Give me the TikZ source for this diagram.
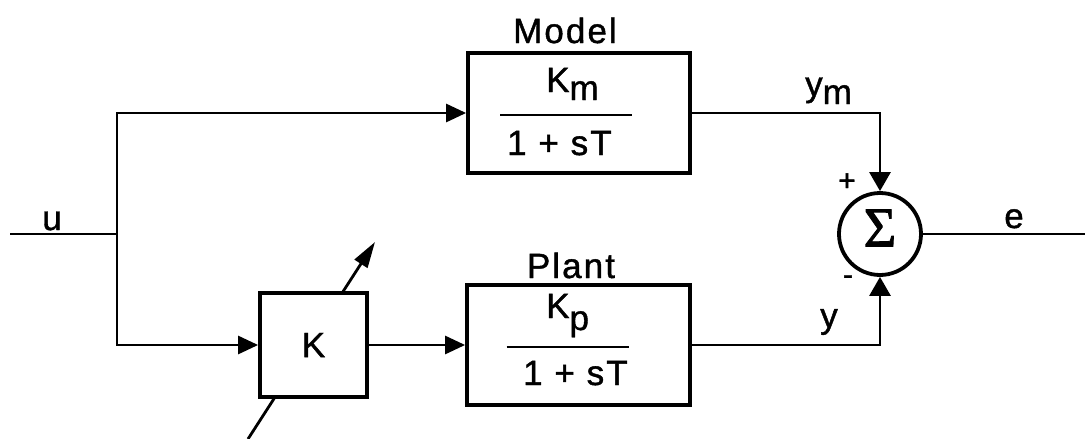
\documentclass[tikz,border=0pt]{standalone}
\usepackage{fontspec}
\setmainfont{Liberation Sans}[LetterSpace=6,FakeBold=1.2]
\newfontfamily\sigmafont{Liberation Serif}[FakeBold=1.5]
\usetikzlibrary{arrows.meta,calc}
\begin{document}
\begin{tikzpicture}[x=1pt,y=-1pt,
  every node/.style={font=\fontsize{35}{40}\selectfont, inner sep=0pt},
  blk/.style={draw, line width=3.8pt, fill=white},
  wire/.style={line width=2.8pt},
  tip/.style={-{Triangle[length=20pt,width=18pt]}},
  sumtip/.style={-{Triangle[length=19pt,width=21pt]}},
  adjtip/.style={-{Triangle[length=26pt,width=15pt]}},
  sign/.style={font=\fontsize{30}{30}\selectfont}]
\useasboundingbox (0,0) rectangle (1085,439);

% adjustable-gain arrow (behind the gain block)
\coordinate (adjA) at (248,439);
\coordinate (adjB) at (375,242);
\draw[wire, adjtip] (adjA) -- (adjB);

% blocks
\node[blk, minimum width=222pt, minimum height=120pt] (model) at (579,113) {};
\node[blk, minimum width=223pt, minimum height=120pt] (plant) at (578.5,345) {};
\node[blk, minimum width=107pt, minimum height=104pt] (kbox) at (313.5,345) {K};
\node[draw, circle, line width=3.8pt, minimum size=82pt] (sum) at (880,234) {};
\node[font=\sigmafont\fontsize{56}{56}\selectfont] (sigma) at (880,228) {Σ};

% transfer functions
\node[anchor=base west] (kmnum) at (546,92) {K\raisebox{-8pt}{m}};
\node[anchor=base west] (kmden) at (507,155) {1 + sT};
\draw[wire] ($(model.center)+(-79,2)$) -- ($(model.center)+(53,2)$);
\node[anchor=base west] (kpnum) at (546,318) {K\raisebox{-12pt}{p}};
\node[anchor=base west] (kpden) at (523,385) {1 + sT};
\draw[wire] ($(plant.center)+(-72,2)$) -- ($(plant.center)+(50,2)$);

% titles and signal names
\node[anchor=base] (modeltitle) at (565,43) {Model};
\node[anchor=base] (planttitle) at (571,278) {Plant};
\node[anchor=base] (ulabel) at (52,230) {u};
\node[anchor=base] (elabel) at (1014,228) {e};
\node[anchor=base west] (ymlabel) at (805,96) {y\raisebox{-8pt}{m}};
\node (ylabel) at (829,322) {y};
\node[sign] (plus) at (847,182) {+};
\node[sign] (minus) at (848,280) {-};

% signal lines
\coordinate (uin) at (10,234);
\coordinate (split) at (117,234);
\coordinate (eout) at (1085,234);
\draw[wire] (uin) -- (split);
\draw[wire, tip] (split) |- (model.west);
\draw[wire, tip] (split) |- (kbox.west);
\draw[wire, tip] (kbox.east) -- (plant.west);
\draw[wire, sumtip] (model.east) -| (sum.north);
\draw[wire, sumtip] (plant.east) -| (sum.south);
\draw[wire] (sum.east) -- (eout);
\end{tikzpicture}
\end{document}
